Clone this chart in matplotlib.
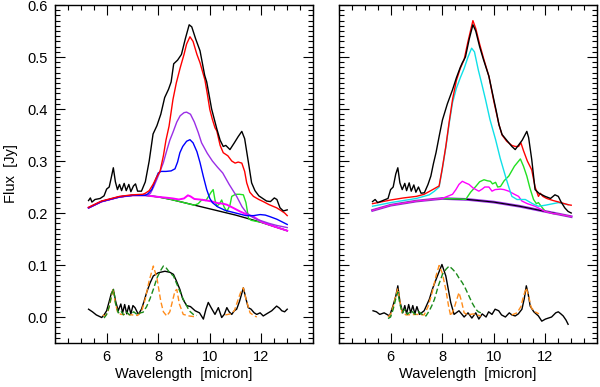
import matplotlib
matplotlib.use("Agg")
import matplotlib.pyplot as plt
from matplotlib.ticker import MultipleLocator, NullFormatter, FixedFormatter, FixedLocator, FormatStrFormatter

plt.rcParams['font.family'] = ['Liberation Sans', 'DejaVu Sans']

# ---------------- left panel ----------------
# continuum (shared base of the model components)
L_cont_w = [5.3, 5.8, 6.5, 7.0, 7.5, 8.0, 8.5, 9.0, 9.5, 10.0, 10.5, 11.0, 11.5, 12.0, 12.5, 13.0]
L_cont_f = [0.210, 0.222, 0.231, 0.234, 0.234, 0.231, 0.226, 0.220, 0.214, 0.208, 0.202, 0.196, 0.189, 0.182, 0.174, 0.166]

# observed spectrum
L_obs_w = [5.30, 5.37, 5.43, 5.55, 5.75, 5.9, 6.0, 6.1, 6.18, 6.26, 6.34, 6.42, 6.5, 6.58, 6.68, 6.76,
           6.86, 6.94, 7.04, 7.12, 7.2, 7.35, 7.5, 7.65, 7.8, 7.95, 8.1, 8.25, 8.4, 8.5, 8.6, 8.75,
           8.9, 9.05, 9.2, 9.3, 9.45, 9.62, 9.8, 9.88, 10.07, 10.27, 10.4, 10.52, 10.62, 10.78, 10.95,
           11.1, 11.24, 11.35, 11.5, 11.62, 11.75, 11.9, 12.05, 12.2, 12.35, 12.5, 12.6, 12.72, 12.85, 13.0]
L_obs_f = [0.224, 0.229, 0.221, 0.226, 0.228, 0.233, 0.246, 0.250, 0.268, 0.287, 0.260, 0.245, 0.255, 0.243, 0.257, 0.243,
           0.255, 0.241, 0.252, 0.256, 0.242, 0.242, 0.260, 0.300, 0.352, 0.368, 0.390, 0.422, 0.438, 0.452, 0.487, 0.494,
           0.505, 0.535, 0.562, 0.558, 0.535, 0.512, 0.465, 0.452, 0.400, 0.362, 0.340, 0.328, 0.330, 0.322, 0.335,
           0.347, 0.357, 0.343, 0.296, 0.258, 0.243, 0.233, 0.228, 0.223, 0.222, 0.229, 0.226, 0.210, 0.204, 0.206]

# total model
L_tot_w = [5.3, 5.8, 6.5, 7.0, 7.4, 7.5, 7.65, 7.8, 7.95, 8.07, 8.2, 8.3, 8.42, 8.57, 8.7, 8.85, 9.0, 9.1,
           9.23, 9.35, 9.5, 9.62, 9.81, 9.9, 10.0, 10.1, 10.2, 10.27, 10.4, 10.52, 10.7, 10.85, 10.98, 11.1,
           11.24, 11.35, 11.43, 11.55, 11.69, 11.9, 12.07, 12.3, 12.59, 12.75, 12.9, 13.0]
L_tot_f = [0.211, 0.223, 0.232, 0.235, 0.236, 0.238, 0.243, 0.255, 0.270, 0.280, 0.310, 0.340, 0.367, 0.418, 0.450, 0.479, 0.505, 0.525,
           0.539, 0.530, 0.505, 0.489, 0.456, 0.430, 0.399, 0.380, 0.364, 0.358, 0.330, 0.316, 0.310, 0.300, 0.296, 0.298,
           0.296, 0.280, 0.258, 0.240, 0.232, 0.226, 0.222, 0.216, 0.210, 0.205, 0.200, 0.195]

# broad component (purple)
L_pur_w = [5.3, 5.8, 6.5, 7.0, 7.5, 7.6, 7.7, 7.82, 7.94, 8.07, 8.2, 8.33, 8.45, 8.57, 8.72, 8.85, 9.0, 9.1, 9.25,
           9.4, 9.55, 9.68, 9.9, 10.1, 10.3, 10.5, 10.75, 11.04, 11.25, 11.43, 11.65, 11.82, 12.0, 12.3, 12.6, 13.0]
L_pur_f = [0.210, 0.222, 0.231, 0.234, 0.234, 0.234, 0.238, 0.250, 0.264, 0.280, 0.297, 0.320, 0.340, 0.355, 0.375, 0.387, 0.393, 0.394, 0.390,
           0.375, 0.355, 0.335, 0.315, 0.300, 0.288, 0.277, 0.255, 0.232, 0.212, 0.200, 0.192, 0.188, 0.185, 0.180, 0.176, 0.172]

# blue component
L_blu_w = [5.3, 5.8, 6.5, 7.0, 7.5, 7.6, 7.75, 7.88, 8.0, 8.1, 8.3, 8.5, 8.65, 8.75, 8.84, 8.95, 9.1, 9.23, 9.35,
           9.5, 9.62, 9.75, 9.88, 10.0, 10.1, 10.3, 10.6, 11.0, 11.4, 11.7, 11.95, 12.15, 12.33, 12.6, 12.8, 13.0]
L_blu_f = [0.210, 0.222, 0.231, 0.234, 0.234, 0.237, 0.245, 0.262, 0.277, 0.280, 0.280, 0.281, 0.285, 0.298, 0.316, 0.328, 0.338, 0.341, 0.335,
           0.318, 0.297, 0.270, 0.245, 0.228, 0.220, 0.212, 0.205, 0.200, 0.195, 0.195, 0.197, 0.196, 0.193, 0.188, 0.183, 0.178]

# magenta component
L_mag_w = [5.3, 5.8, 6.5, 7.0, 7.5, 8.0, 8.2, 8.4, 8.57, 8.8, 9.0, 9.15, 9.25, 9.4, 9.6, 9.88, 10.1, 10.3, 10.5,
           10.66, 10.9, 11.17, 11.4, 11.69, 12.0, 12.5, 13.0]
L_mag_f = [0.210, 0.222, 0.231, 0.234, 0.234, 0.231, 0.230, 0.229, 0.228, 0.226, 0.228, 0.234, 0.232, 0.227, 0.226, 0.224, 0.222, 0.219, 0.218,
           0.216, 0.210, 0.203, 0.198, 0.193, 0.183, 0.174, 0.166]

# green component
L_grn_w = [5.3, 5.8, 6.5, 7.0, 7.5, 8.0, 8.5, 9.0, 9.4, 9.55, 9.7, 9.85, 9.95, 10.05, 10.13, 10.2, 10.27, 10.38, 10.46,
           10.55, 10.66, 10.78, 10.85, 11.0, 11.15, 11.3, 11.4, 11.5, 11.6, 12.0, 12.5, 13.0]
L_grn_f = [0.210, 0.222, 0.231, 0.234, 0.234, 0.231, 0.226, 0.220, 0.215, 0.218, 0.226, 0.224, 0.232, 0.240, 0.245, 0.225, 0.213, 0.218, 0.225,
           0.212, 0.203, 0.215, 0.232, 0.236, 0.236, 0.235, 0.220, 0.190, 0.186, 0.182, 0.174, 0.166]

# residual (PAH) spectrum and templates
L_res_w = [5.3, 5.45, 5.6, 5.81, 5.9, 6.0, 6.1, 6.18, 6.26, 6.35, 6.45, 6.55, 6.62, 6.7, 6.78, 6.86, 6.94, 7.02,
           7.1, 7.23, 7.35, 7.45, 7.55, 7.68, 7.81, 8.0, 8.26, 8.45, 8.59, 8.7, 8.84, 8.95, 9.1, 9.25, 9.43,
           9.6, 9.75, 9.85, 9.94, 10.05, 10.2, 10.33, 10.46, 10.56, 10.66, 10.75, 10.85, 10.95, 11.04, 11.15,
           11.3, 11.4, 11.49, 11.6, 11.72, 11.82, 11.95, 12.07, 12.2, 12.4, 12.59, 12.7, 12.79, 12.9, 13.0]
L_res_f = [0.015, 0.010, 0.004, -0.001, 0.004, 0.012, 0.030, 0.045, 0.053, 0.030, 0.012, 0.025, 0.008, 0.024, 0.006, 0.022, 0.006, 0.022,
           0.018, 0.005, 0.015, 0.030, 0.047, 0.065, 0.079, 0.085, 0.088, 0.086, 0.082, 0.070, 0.053, 0.035, 0.022, 0.020, 0.012,
           0.008, -0.004, 0.015, 0.028, 0.018, 0.005, 0.018, -0.001, 0.005, 0.018, 0.010, 0.005, 0.012, 0.015, 0.030,
           0.056, 0.035, 0.018, 0.015, 0.008, 0.005, 0.008, 0.002, 0.006, 0.012, 0.021, 0.017, 0.012, 0.010, 0.015]

L_org1_w = [5.85, 5.95, 6.05, 6.15, 6.25, 6.33, 6.42, 6.55, 6.8, 7.0, 7.2, 7.35, 7.5, 7.65, 7.81, 7.95, 8.1, 8.2,
            8.33, 8.45, 8.55, 8.65, 8.72, 8.82, 8.97, 9.2, 9.49]
L_org1_f = [0.004, 0.002, 0.010, 0.030, 0.055, 0.030, 0.010, 0.005, 0.005, 0.004, 0.003, 0.010, 0.035, 0.070, 0.098, 0.075, 0.030, 0.010,
            0.002, 0.010, 0.030, 0.050, 0.053, 0.025, 0.005, 0.002, 0.000]
L_org2_w = [10.6, 10.8, 10.95, 11.1, 11.2, 11.3, 11.4, 11.56, 11.7, 11.82]
L_org2_f = [0.004, 0.006, 0.012, 0.034, 0.048, 0.056, 0.035, 0.008, 0.003, 0.000]

L_gd_w = [5.9, 6.0, 6.1, 6.2, 6.27, 6.35, 6.45, 6.55, 6.65, 6.75, 6.9, 7.05, 7.2, 7.3, 7.41, 7.55, 7.68, 7.81,
          7.95, 8.1, 8.2, 8.3, 8.45, 8.59, 8.75, 8.9, 8.97, 9.1, 9.2, 9.36, 9.5]
L_gd_f = [-0.002, 0.005, 0.020, 0.045, 0.053, 0.025, 0.008, 0.012, 0.004, 0.010, 0.004, 0.010, 0.004, 0.008, 0.009, 0.020, 0.035, 0.053,
          0.075, 0.090, 0.098, 0.095, 0.085, 0.079, 0.060, 0.042, 0.034, 0.022, 0.012, 0.005, 0.003]

# ---------------- right panel ----------------
R_cont_w = [5.3, 6.0, 7.0, 8.0, 9.0, 10.0, 11.0, 11.5, 12.0, 12.5, 13.0]
R_cont_f = [0.205, 0.215, 0.223, 0.228, 0.226, 0.221, 0.213, 0.208, 0.203, 0.198, 0.193]

R_obs_w = [5.3, 5.4, 5.5, 5.7, 5.9, 6.0, 6.1, 6.2, 6.28, 6.36, 6.45, 6.55, 6.62, 6.72, 6.8, 6.9, 6.98, 7.08, 7.18,
           7.31, 7.45, 7.56, 7.66, 7.76, 7.9, 8.01, 8.2, 8.4, 8.55, 8.7, 8.78, 8.9, 9.05, 9.19, 9.3, 9.45, 9.6,
           9.81, 9.95, 10.1, 10.2, 10.32, 10.5, 10.7, 10.83, 10.95, 11.1, 11.28, 11.35, 11.47, 11.6, 11.75,
           11.99, 12.2, 12.37, 12.5, 12.6, 12.75, 12.88, 13.0]
R_obs_f = [0.222, 0.226, 0.220, 0.224, 0.228, 0.245, 0.250, 0.275, 0.287, 0.258, 0.245, 0.257, 0.243, 0.258, 0.242, 0.254, 0.240, 0.250, 0.238,
           0.239, 0.255, 0.271, 0.295, 0.316, 0.352, 0.379, 0.410, 0.437, 0.460, 0.480, 0.489, 0.500, 0.535, 0.562, 0.550, 0.520, 0.495,
           0.463, 0.430, 0.395, 0.370, 0.351, 0.340, 0.328, 0.322, 0.330, 0.340, 0.357, 0.345, 0.303, 0.245, 0.238,
           0.232, 0.228, 0.235, 0.232, 0.222, 0.210, 0.203, 0.200]

R_tot_w = [5.3, 6.0, 6.5, 7.0, 7.3, 7.63, 7.88, 8.0, 8.14, 8.27, 8.4, 8.55, 8.7, 8.85, 9.0, 9.19, 9.3, 9.45, 9.6,
           9.81, 10.0, 10.2, 10.32, 10.5, 10.7, 10.83, 10.96, 11.05, 11.15, 11.3, 11.47, 11.6, 11.73, 11.8, 11.9,
           12.05, 12.3, 12.6, 12.88, 13.0]
R_tot_f = [0.218, 0.225, 0.229, 0.232, 0.236, 0.245, 0.252, 0.285, 0.328, 0.375, 0.418, 0.455, 0.478, 0.495, 0.530, 0.570, 0.555, 0.525, 0.498,
           0.463, 0.415, 0.370, 0.350, 0.338, 0.330, 0.328, 0.328, 0.335, 0.320, 0.300, 0.283, 0.250, 0.232, 0.238, 0.232,
           0.228, 0.224, 0.220, 0.216, 0.215]

R_cyn_w = [5.3, 6.0, 7.0, 7.5, 7.7, 7.88, 8.0, 8.14, 8.27, 8.4, 8.55, 8.7, 8.85, 9.0, 9.14, 9.25, 9.4, 9.55, 9.68,
           9.85, 10.07, 10.25, 10.45, 10.58, 10.7, 10.9, 11.22, 11.5, 11.73, 12.0, 12.3, 12.5, 12.88]
R_cyn_f = [0.213, 0.220, 0.228, 0.235, 0.242, 0.250, 0.283, 0.326, 0.372, 0.412, 0.440, 0.460, 0.478, 0.500, 0.517, 0.510, 0.475, 0.445, 0.418,
           0.380, 0.341, 0.305, 0.271, 0.250, 0.232, 0.226, 0.226, 0.218, 0.213, 0.215, 0.218, 0.220, 0.216]

R_mag_w = [5.3, 6.0, 7.0, 8.0, 8.2, 8.4, 8.53, 8.65, 8.78, 8.9, 9.04, 9.2, 9.42, 9.55, 9.65, 9.81, 9.93, 10.05, 10.26,
           10.4, 10.58, 10.8, 10.96, 11.09, 11.3, 11.6, 11.99, 12.3, 12.5, 13.0]
R_mag_f = [0.205, 0.215, 0.223, 0.228, 0.232, 0.236, 0.245, 0.255, 0.261, 0.258, 0.255, 0.248, 0.242, 0.246, 0.250, 0.250, 0.242, 0.245, 0.246,
           0.245, 0.242, 0.236, 0.232, 0.223, 0.218, 0.213, 0.203, 0.199, 0.198, 0.193]

R_grn_w = [5.3, 6.0, 7.0, 8.0, 8.7, 8.91, 9.1, 9.3, 9.45, 9.62, 9.75, 9.87, 9.95, 10.07, 10.15, 10.26, 10.4, 10.58, 10.8,
           11.03, 11.15, 11.28, 11.4, 11.54, 11.65, 11.73, 11.85, 12.0, 12.3, 12.5, 13.0]
R_grn_f = [0.205, 0.215, 0.223, 0.228, 0.227, 0.226, 0.240, 0.251, 0.260, 0.264, 0.262, 0.261, 0.256, 0.259, 0.250, 0.251, 0.262, 0.271, 0.290,
           0.304, 0.290, 0.271, 0.248, 0.226, 0.218, 0.220, 0.212, 0.203, 0.199, 0.198, 0.193]

R_res_w = [5.32, 5.45, 5.58, 5.75, 5.96, 6.09, 6.2, 6.28, 6.36, 6.47, 6.55, 6.62, 6.7, 6.78, 6.86, 6.94, 7.02, 7.12,
           7.3, 7.5, 7.63, 7.76, 7.99, 8.14, 8.33, 8.46, 8.65, 8.85, 9.0, 9.15, 9.3, 9.42, 9.55, 9.7, 9.8, 9.93,
           10.05, 10.19, 10.3, 10.45, 10.6, 10.7, 10.83, 10.95, 11.09, 11.18, 11.26, 11.33, 11.41, 11.55, 11.73,
           11.86, 12.0, 12.24, 12.4, 12.5, 12.6, 12.69, 12.8, 12.88]
R_res_f = [0.012, 0.010, 0.005, 0.008, 0.002, 0.021, 0.040, 0.060, 0.030, 0.008, 0.022, 0.006, 0.024, 0.008, 0.022, 0.006, 0.020, 0.005,
           0.012, 0.034, 0.055, 0.072, 0.101, 0.079, 0.028, 0.005, 0.012, 0.000, 0.008, -0.002, 0.008, -0.004, 0.006, 0.000, 0.010, 0.005,
           0.015, 0.012, 0.004, 0.000, 0.008, 0.004, 0.002, 0.006, 0.015, 0.035, 0.060, 0.045, 0.021, 0.010, 0.002,
           -0.008, -0.004, 0.000, 0.008, 0.010, 0.006, 0.002, -0.006, -0.014]

R_org1_w = [5.9, 6.0, 6.1, 6.2, 6.28, 6.36, 6.45, 6.6, 7.0, 7.3, 7.45, 7.6, 7.76, 7.88, 8.0, 8.14, 8.25, 8.33, 8.45,
            8.53, 8.65, 8.75, 8.85, 9.0, 9.2, 9.5]
R_org1_f = [0.000, 0.005, 0.020, 0.040, 0.055, 0.030, 0.008, 0.004, 0.005, 0.004, 0.020, 0.045, 0.079, 0.099, 0.085, 0.053, 0.020, 0.002, 0.015,
            0.028, 0.047, 0.030, 0.008, 0.004, 0.006, 0.002]
R_org2_w = [10.7, 10.9, 11.05, 11.15, 11.26, 11.35, 11.45, 11.6, 11.75]
R_org2_f = [0.004, 0.008, 0.020, 0.040, 0.056, 0.040, 0.018, 0.010, 0.006]

R_gd_w = [5.9, 6.0, 6.1, 6.2, 6.28, 6.36, 6.45, 6.55, 6.65, 6.8, 6.95, 7.1, 7.25, 7.37, 7.5, 7.6, 7.7, 7.85, 8.01,
          8.15, 8.27, 8.4, 8.53, 8.65, 8.78, 8.9, 9.04, 9.15, 9.3, 9.4, 9.5]
R_gd_f = [-0.003, 0.000, 0.015, 0.035, 0.048, 0.025, 0.008, 0.015, 0.005, 0.012, 0.005, 0.010, 0.004, 0.002, 0.012, 0.022, 0.034, 0.060, 0.082,
          0.092, 0.098, 0.092, 0.085, 0.075, 0.066, 0.055, 0.040, 0.028, 0.015, 0.010, 0.008]

ORANGE = '#ff8c1a'
DGREEN = '#1a8a1a'
LIME = '#22e022'
PURPLE = '#9a2ee6'
DASH = (0, (4, 2))

fig = plt.figure(figsize=(6.0, 3.87), dpi=100)
ax1 = fig.add_axes([0.0917, 0.1137, 0.4300, 0.8733])
ax2 = fig.add_axes([0.5650, 0.1137, 0.4300, 0.8733])

lw = 1.0

# left
ax1.plot(L_cont_w, L_cont_f, color='black', lw=lw)
ax1.plot(L_grn_w, L_grn_f, color=LIME, lw=lw)
ax1.plot(L_mag_w, L_mag_f, color='magenta', lw=lw * 1.4)
ax1.plot(L_pur_w, L_pur_f, color=PURPLE, lw=lw)
ax1.plot(L_blu_w, L_blu_f, color='blue', lw=lw)
ax1.plot(L_tot_w, L_tot_f, color='red', lw=lw)
ax1.plot(L_obs_w, L_obs_f, color='black', lw=lw)
ax1.plot(L_res_w, L_res_f, color='black', lw=lw)
ax1.plot(L_org1_w, L_org1_f, color=ORANGE, lw=lw, ls=DASH)
ax1.plot(L_org2_w, L_org2_f, color=ORANGE, lw=lw, ls=DASH)
ax1.plot(L_gd_w, L_gd_f, color=DGREEN, lw=lw, ls=DASH)

# right
ax2.plot(R_cont_w, R_cont_f, color=PURPLE, lw=lw * 2.0)
ax2.plot(R_cont_w, R_cont_f, color='black', lw=lw * 0.8)
ax2.plot(R_grn_w, R_grn_f, color=LIME, lw=lw)
ax2.plot(R_mag_w, R_mag_f, color='magenta', lw=lw)
ax2.plot(R_cyn_w, R_cyn_f, color='#10e0e8', lw=lw)
ax2.plot(R_tot_w, R_tot_f, color='red', lw=lw)
ax2.plot(R_obs_w, R_obs_f, color='black', lw=lw)
ax2.plot(R_res_w, R_res_f, color='black', lw=lw)
ax2.plot(R_org1_w, R_org1_f, color=ORANGE, lw=lw, ls=DASH)
ax2.plot(R_org2_w, R_org2_f, color=ORANGE, lw=lw, ls=DASH)
ax2.plot(R_gd_w, R_gd_f, color=DGREEN, lw=lw, ls=DASH)

for ax in (ax1, ax2):
    ax.set_xlim(4, 14)
    ax.set_ylim(-0.05, 0.6)
    ax.xaxis.set_major_locator(FixedLocator([4, 6, 8, 10, 12, 14]))
    ax.xaxis.set_major_formatter(FixedFormatter(['', '6', '8', '10', '12', '']))
    ax.xaxis.set_minor_locator(MultipleLocator(0.5))
    ax.yaxis.set_major_locator(MultipleLocator(0.1))
    ax.yaxis.set_minor_locator(MultipleLocator(0.01))
    ax.tick_params(which='both', direction='in', top=True, right=True, width=0.8, labelsize=10.5, pad=5)
    ax.tick_params(which='major', length=7)
    ax.tick_params(which='minor', length=3.5)
    ax.set_xlabel('Wavelength  [micron]', fontsize=10.5, labelpad=2)
    for s in ax.spines.values():
        s.set_linewidth(1.0)

ax1.set_ylabel('Flux  [Jy]', fontsize=10.5, labelpad=7)
ax1.yaxis.set_major_formatter(FormatStrFormatter('%.1f'))
ax2.yaxis.set_major_formatter(NullFormatter())

fig.savefig('out.png', dpi=100)
